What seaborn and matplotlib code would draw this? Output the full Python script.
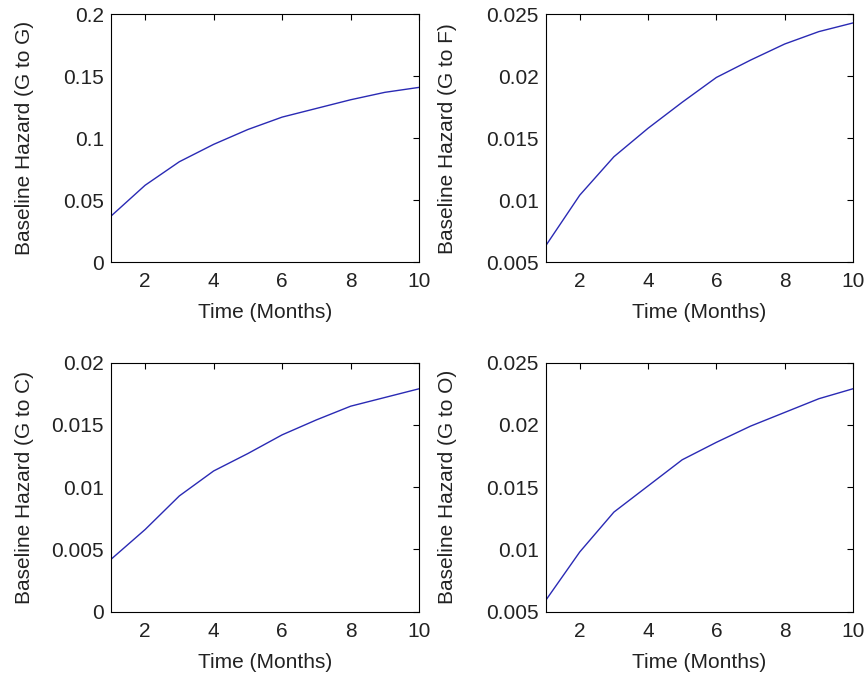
import numpy as np
import pandas as pd
import matplotlib
matplotlib.use("Agg")
import matplotlib.pyplot as plt
import seaborn as sns

months = [1, 2, 3, 4, 5, 6, 7, 8, 9, 10]
g_to_g = [0.037, 0.062, 0.081, 0.095, 0.107, 0.117, 0.124, 0.131, 0.137, 0.141]
g_to_f = [0.0063, 0.0104, 0.0135, 0.0158, 0.0179, 0.0199, 0.0213, 0.0226, 0.0236, 0.0243]
g_to_c = [0.0042, 0.0066, 0.0093, 0.0113, 0.0127, 0.0142, 0.0154, 0.0165, 0.0172, 0.0179]
g_to_o = [0.0059, 0.0098, 0.0130, 0.0151, 0.0172, 0.0186, 0.0199, 0.0210, 0.0221, 0.0229]

panels = [
    ("G to G", g_to_g, (0, 0.2), [0, 0.05, 0.1, 0.15, 0.2], ["0", "0.05", "0.1", "0.15", "0.2"]),
    ("G to F", g_to_f, (0.005, 0.025), [0.005, 0.01, 0.015, 0.02, 0.025],
     ["0.005", "0.01", "0.015", "0.02", "0.025"]),
    ("G to C", g_to_c, (0, 0.02), [0, 0.005, 0.01, 0.015, 0.02],
     ["0", "0.005", "0.01", "0.015", "0.02"]),
    ("G to O", g_to_o, (0.005, 0.025), [0.005, 0.01, 0.015, 0.02, 0.025],
     ["0.005", "0.01", "0.015", "0.02", "0.025"]),
]

sns.set_style("white")
plt.rcParams["font.family"] = ["Liberation Sans", "DejaVu Sans"]
txt = "#222222"
plt.rcParams["text.color"] = txt
plt.rcParams["axes.labelcolor"] = txt
plt.rcParams["xtick.labelcolor"] = txt
plt.rcParams["ytick.labelcolor"] = txt

fig = plt.figure(figsize=(8.66, 6.79), dpi=100)
positions = [
    [0.128, 0.614, 0.356, 0.365],
    [0.630, 0.614, 0.355, 0.365],
    [0.128, 0.099, 0.356, 0.367],
    [0.630, 0.099, 0.355, 0.367],
]
label_x = [34, 457, 34, 457]

for (name, vals, ylim, yticks, ylabels), pos, lx in zip(panels, positions, label_x):
    ax = fig.add_axes(pos)
    df = pd.DataFrame({"month": months, "hazard": vals})
    sns.lineplot(data=df, x="month", y="hazard", ax=ax, color="#2a2ab4", linewidth=1.0)
    ax.set_xlim(1, 10)
    ax.set_ylim(*ylim)
    ax.set_xticks([2, 4, 6, 8, 10])
    ax.set_yticks(yticks)
    ax.set_yticklabels(ylabels)
    ax.set_xlabel("Time (Months)", fontsize=15, labelpad=9)
    ax.set_ylabel(f"Baseline Hazard ({name})", fontsize=15)
    ax.yaxis.set_label_coords((lx - pos[0] * 866) / (pos[2] * 866), 0.5)
    ax.tick_params(direction="in", length=4, width=0.8, top=True, right=True,
                   color="black", labelsize=15, pad=7)
    ax.tick_params(axis="y", pad=5)
    for s in ax.spines.values():
        s.set_color("black")
        s.set_linewidth(0.8)

fig.savefig("out.png", dpi=100, facecolor="white")
